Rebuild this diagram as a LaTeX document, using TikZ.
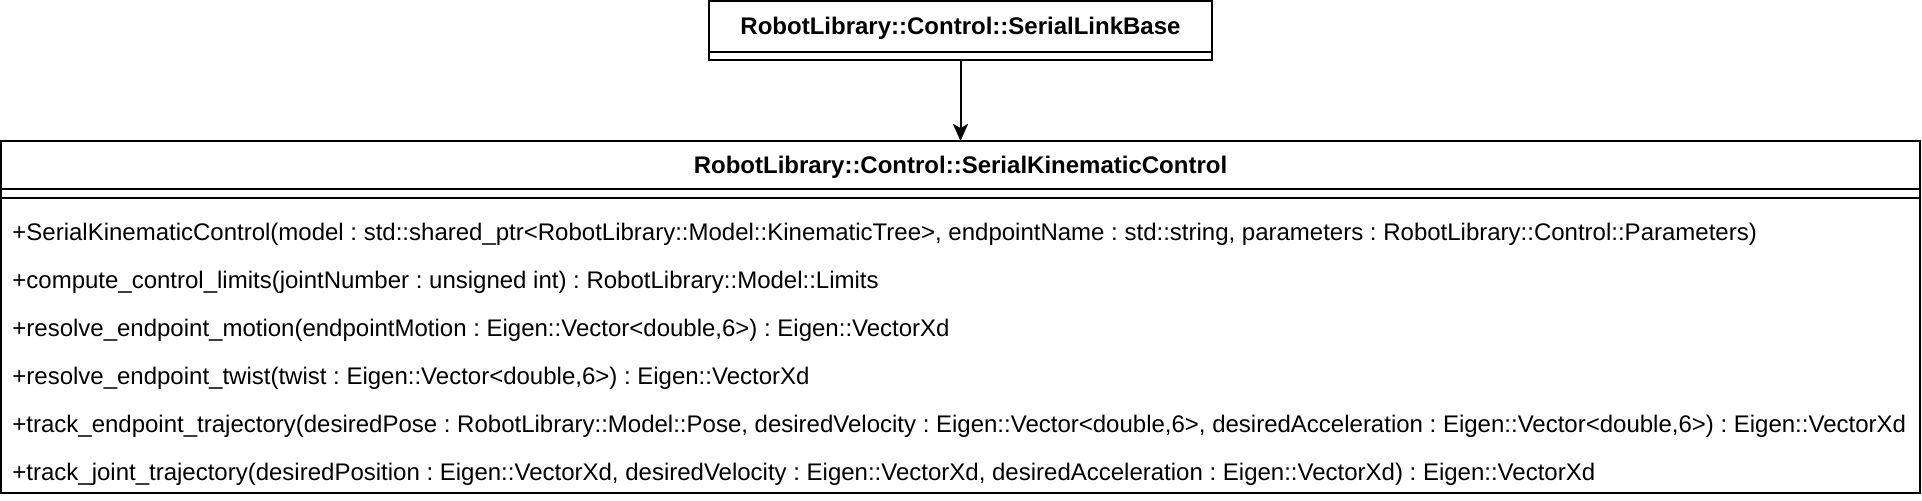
\documentclass[tikz,border=0pt]{standalone}
\usepackage{fontspec}
\setmainfont{Liberation Sans}
\usetikzlibrary{arrows.meta, positioning}
\frenchspacing

\begin{document}
\begin{tikzpicture}[x=0.5pt, y=-0.5pt,
    classtitle/.style = {rectangle, draw=black, line width=1pt, inner sep=0pt, outer sep=0pt, text depth=0.5pt, anchor=north west, font=\bfseries\fontsize{12}{14}\selectfont},
    classpart/.style = {rectangle, draw=black, line width=1pt, inner sep=0pt, outer sep=0pt, anchor=north},
    member/.style = {anchor=west, inner sep=0pt, font=\fontsize{12}{14}\selectfont},
    inherit/.style = {draw=black, line width=1pt, -{Stealth[length=8.5pt, width=7.5pt, inset=2pt]}}
]
\useasboundingbox (0,0) rectangle (1922,500);

% Base class
\node (base) [classtitle, minimum width=251.5pt, minimum height=25.5pt] at (709,1) {RobotLibrary::Control::SerialLinkBase};
\node (basesep) [classpart, minimum width=251.5pt, minimum height=4pt] at (base.south) {};

% Derived class
\node (ctrl) [classtitle, minimum width=959.5pt, minimum height=24pt] at (1,141) {RobotLibrary::Control::SerialKinematicControl};
\node (ctrlsep) [classpart, minimum width=959.5pt, minimum height=4.5pt] at (ctrl.south) {};
\node (ctrlops) [classpart, minimum width=959.5pt, minimum height=147.5pt] at (ctrlsep.south) {};

% Operations
\node (op1) [member] at (12,234) {+SerialKinematicControl(model : std::shared\_ptr<RobotLibrary::Model::KinematicTree>, endpointName : std::string, parameters : RobotLibrary::Control::Parameters)};
\node (op2) [member] at (12,282) {+compute\_control\_limits(jointNumber : unsigned int) : RobotLibrary::Model::Limits};
\node (op3) [member] at (12,330) {+resolve\_endpoint\_motion(endpointMotion : Eigen::Vector<double,6>) : Eigen::VectorXd};
\node (op4) [member] at (12,378) {+resolve\_endpoint\_twist(twist : Eigen::Vector<double,6>) : Eigen::VectorXd};
\node (op5) [member] at (12,426) {+track\_endpoint\_trajectory(desiredPose : RobotLibrary::Model::Pose, desiredVelocity : Eigen::Vector<double,6>, desiredAcceleration : Eigen::Vector<double,6>) : Eigen::VectorXd};
\node (op6) [member] at (12,474) {+track\_joint\_trajectory(desiredPosition : Eigen::VectorXd, desiredVelocity : Eigen::VectorXd, desiredAcceleration : Eigen::VectorXd) : Eigen::VectorXd};

% Generalisation
\draw [inherit] (basesep.south) -- (ctrl.north);

\end{tikzpicture}
\end{document}
